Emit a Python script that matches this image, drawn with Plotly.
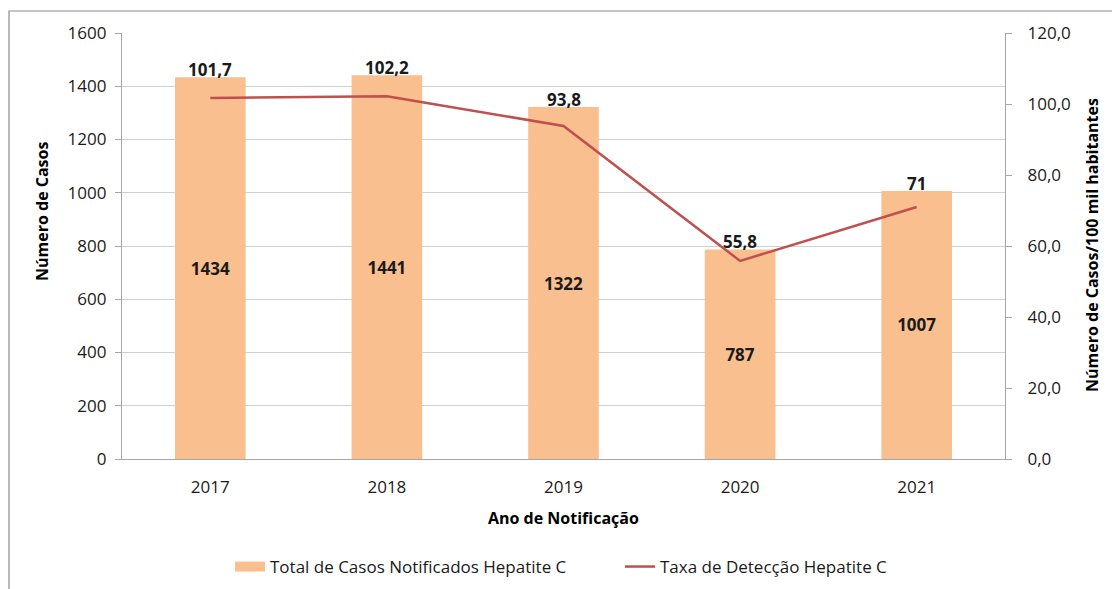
import plotly.graph_objects as go

# Hepatite C: casos notificados e taxa de detecção por ano
anos = ["2017", "2018", "2019", "2020", "2021"]
casos = [1434, 1441, 1322, 787, 1007]
taxa = [101.7, 102.2, 93.8, 55.8, 71.0]
taxa_rotulos = ["101,7", "102,2", "93,8", "55,8", "71"]

left_ticks = [0, 200, 400, 600, 800, 1000, 1200, 1400, 1600]
right_ticks = [0, 20, 40, 60, 80, 100, 120]
right_tick_text = ["0,0", "20,0", "40,0", "60,0", "80,0", "100,0", "120,0"]

FONT = "Open Sans"
BAR_COLOR = "#F9BF8F"
LINE_COLOR = "#C0504D"
GRID = "#D0D0D0"
AXIS = "#A6A6A6"
TXT = "#1a1a1a"

# plot area geometry in pixels
W, H = 1112, 589
L, R, T, B = 122, 107, 33, 130
pw, ph = W - L - R, H - T - B


def px_x(x):
    return (x - L) / pw


def px_y(y):
    return (H - B - y) / ph


fig = go.Figure()

fig.add_trace(go.Bar(
    x=anos, y=casos,
    name="Total de Casos Notificados Hepatite C",
    marker=dict(color=BAR_COLOR, line=dict(width=0)),
    text=[str(v) for v in casos],
    textposition="inside",
    insidetextanchor="middle",
    textfont=dict(family=FONT, size=17, color=TXT, weight="bold"),
    textangle=0,
    showlegend=False,
    yaxis="y",
))

# wide swatch for the bar series in the legend
fig.add_trace(go.Scatter(
    x=[None], y=[None], mode="lines",
    name="Total de Casos Notificados Hepatite C",
    line=dict(color=BAR_COLOR, width=12),
    showlegend=True,
))

fig.add_trace(go.Scatter(
    x=anos, y=taxa,
    name="Taxa de Detecção Hepatite C",
    mode="lines",
    line=dict(color=LINE_COLOR, width=2.5),
    yaxis="y2",
))

# rate labels placed just above each bar
for i, (c, t) in enumerate(zip(casos, taxa_rotulos)):
    fig.add_annotation(
        x=i, y=c, xref="x", yref="y", text=t, showarrow=False,
        yanchor="bottom", yshift=-6,
        font=dict(family=FONT, size=17, color=TXT, weight="bold"),
    )

# axis titles
title_font = dict(family=FONT, size=16, color="#000000", weight="bold")
fig.add_annotation(
    x=px_x(42), y=px_y(212), xref="paper", yref="paper",
    xanchor="center", yanchor="middle",
    text="Número de Casos", textangle=-90, showarrow=False, font=title_font,
)
fig.add_annotation(
    x=px_x(1092), y=px_y(245), xref="paper", yref="paper",
    xanchor="center", yanchor="middle",
    text="Número de Casos/100 mil habitantes", textangle=-90, showarrow=False,
    font=title_font,
)
fig.add_annotation(
    x=px_x(563), y=px_y(518), xref="paper", yref="paper",
    xanchor="center", yanchor="middle",
    text="Ano de Notificação", showarrow=False, font=title_font,
)

# outer frame (top and left edges visible)
fig.add_shape(
    type="rect", xref="paper", yref="paper",
    x0=px_x(9), x1=px_x(1130), y0=px_y(600), y1=px_y(11),
    line=dict(color="#8C8C8C", width=1.2), fillcolor="rgba(0,0,0,0)",
    layer="below",
)

fig.update_layout(
    width=W, height=H,
    margin=dict(l=L, r=R, t=T, b=B, autoexpand=False),
    paper_bgcolor="white", plot_bgcolor="white",
    bargap=0.6,
    showlegend=True,
    legend=dict(
        orientation="h", xref="container", yref="container",
        x=230 / W, xanchor="left",
        y=(H - 567) / H, yanchor="middle",
        font=dict(family=FONT, size=17, color=TXT),
        entrywidth=345, tracegroupgap=0,
    ),
    xaxis=dict(
        type="category", range=[-0.5, 4.5],
        showgrid=False, automargin=False,
        showline=True, linecolor=AXIS, linewidth=1.2,
        ticks="", tickfont=dict(family=FONT, size=17, color=TXT),
        ticklabelstandoff=12,
    ),
    yaxis=dict(
        range=[0, 1600], tickvals=left_ticks, automargin=False,
        ticktext=[str(v) for v in left_ticks],
        showgrid=True, gridcolor=GRID, gridwidth=1.2,
        showline=True, linecolor=AXIS, linewidth=1.2,
        ticks="outside", ticklen=6, tickcolor=AXIS,
        tickfont=dict(family=FONT, size=17, color=TXT),
        ticklabelstandoff=5,
        zeroline=False,
    ),
    yaxis2=dict(
        range=[0, 120], tickvals=right_ticks, ticktext=right_tick_text,
        overlaying="y", side="right", automargin=False,
        showgrid=False,
        showline=True, linecolor=AXIS, linewidth=1.2,
        ticks="outside", ticklen=6, tickcolor=AXIS,
        tickfont=dict(family=FONT, size=17, color=TXT),
        ticklabelstandoff=12,
        zeroline=False,
    ),
)

fig.write_html("out.html")
